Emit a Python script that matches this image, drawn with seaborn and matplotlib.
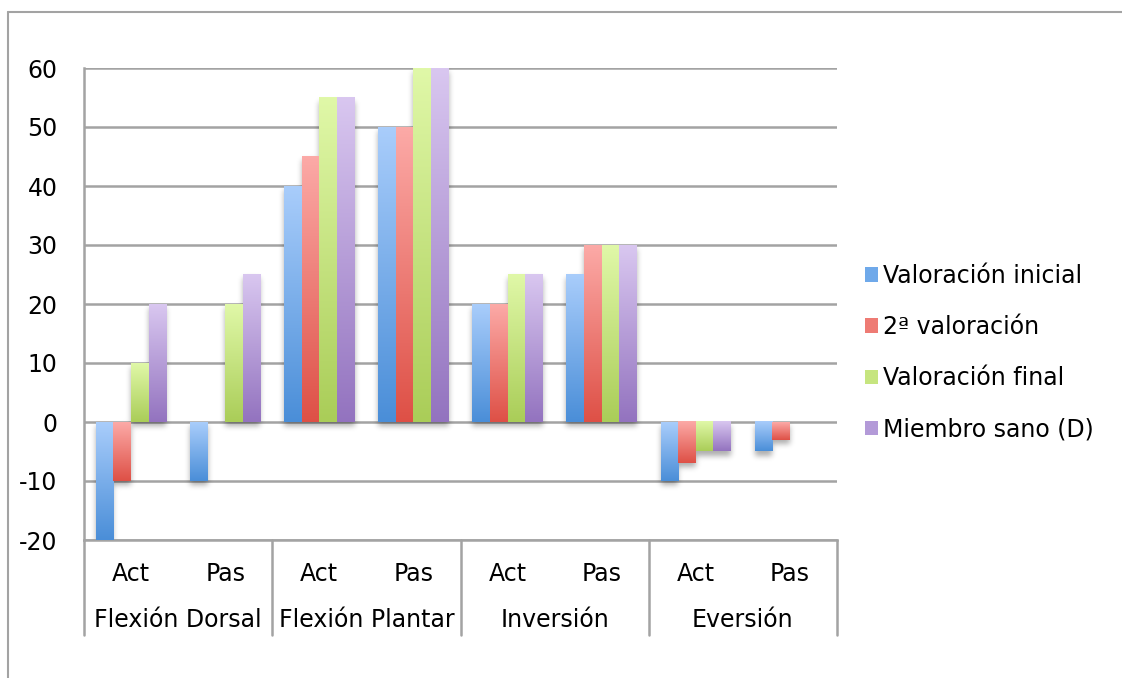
import numpy as np
import pandas as pd
import matplotlib
matplotlib.use("Agg")
import matplotlib.pyplot as plt
from matplotlib.colors import LinearSegmentedColormap
from matplotlib.patches import Patch
from matplotlib.lines import Line2D
import seaborn as sns

# Data
groups = ["Flexión Dorsal", "Flexión Plantar", "Inversión", "Eversión"]
modes = ["Act", "Pas"]
series = ["Valoración inicial", "2ª valoración", "Valoración final", "Miembro sano (D)"]
inicial = [-20, -10, 40, 50, 20, 25, -10, -5]
segunda = [-10, 0, 45, 50, 20, 30, -7, -3]
final = [10, 20, 55, 60, 25, 30, -5, 0]
sano = [20, 25, 55, 60, 25, 30, -5, 0]

categories = [f"{g}|{m}" for g in groups for m in modes]
values = [inicial, segunda, final, sano]
df = pd.DataFrame({
    "cat": np.tile(categories, len(series)),
    "serie": np.repeat(series, len(categories)),
    "valor": np.concatenate(values),
})

# light (top) -> dark (bottom) colours for each series
grad = [("#a9cdfb", "#4a8ed8"), ("#fcaaa7", "#de5046"),
        ("#e0f8a8", "#aacd58"), ("#d9c7f0", "#9373bf")]
mid = ["#6fa9ea", "#ee7b74", "#c6e57f", "#b39ad8"]

FS = 17
GRID = "#a3a3a3"
YMIN, YMAX = -20, 60

sns.set_theme(style="white")
plt.rcParams["font.family"] = ["DejaVu Sans"]
plt.rcParams["axes.unicode_minus"] = False
plt.rcParams["text.color"] = "black"

fig = plt.figure(figsize=(11.22, 6.78), dpi=100)
ax_w_px, ax_h_px = 837 - 84, 540 - 68
ax = fig.add_axes([84 / 1122, 1 - 540 / 678, ax_w_px / 1122, ax_h_px / 678])

sns.barplot(data=df, x="cat", y="valor", hue="serie", order=categories,
            hue_order=series, palette=mid, width=0.75, gap=0,
            legend=False, ax=ax, errorbar=None)

XMIN, XMAX = -0.5, len(categories) - 0.5

# soft drop shadow: union of bar footprints, shifted down and blurred
pad = 20
mask = np.zeros((ax_h_px + 2 * pad, ax_w_px + 2 * pad))
shift_px = 4


def to_col(x):
    return (x - XMIN) / (XMAX - XMIN) * ax_w_px + pad


def to_row(y):
    return (YMAX - y) / (YMAX - YMIN) * ax_h_px + pad


bars = []
for cont, (top, bot) in zip(ax.containers, grad):
    for p in cont.patches:
        x, w = p.get_x(), p.get_width()
        y0, h = p.get_y(), p.get_height()
        lo, hi = min(y0, y0 + h), max(y0, y0 + h)
        p.set_visible(False)
        if hi - lo < 1e-9:
            continue
        bars.append((x, w, lo, hi, top, bot))
        c0, c1 = int(round(to_col(x))), int(round(to_col(x + w)))
        r0, r1 = int(round(to_row(hi))) + shift_px, int(round(to_row(lo))) + shift_px
        mask[r0:r1, c0:c1] = 1.0

sigma = 2.8
k = np.arange(-10, 11)
kern = np.exp(-k ** 2 / (2 * sigma ** 2))
kern /= kern.sum()
blur = np.apply_along_axis(lambda r: np.convolve(r, kern, mode="same"), 1, mask)
blur = np.apply_along_axis(lambda c: np.convolve(c, kern, mode="same"), 0, blur)
shadow = np.zeros(blur.shape + (4,))
shadow[..., 3] = blur * 0.32
ext_x0 = XMIN - pad / ax_w_px * (XMAX - XMIN)
ext_x1 = XMAX + pad / ax_w_px * (XMAX - XMIN)
ext_y0 = YMIN - pad / ax_h_px * (YMAX - YMIN)
ext_y1 = YMAX + pad / ax_h_px * (YMAX - YMIN)
ax.imshow(shadow, extent=[ext_x0, ext_x1, ext_y0, ext_y1], aspect="auto",
          origin="upper", zorder=2.5, interpolation="bilinear")

# gradient fill for every bar
grad_img = np.linspace(0, 1, 256).reshape(-1, 1)
for x, w, lo, hi, top, bot in bars:
    cmap = LinearSegmentedColormap.from_list("g", [top, bot])
    ax.imshow(grad_img, cmap=cmap, extent=[x, x + w, lo, hi],
              aspect="auto", origin="upper", zorder=3,
              interpolation="bilinear")

ax.set_ylim(YMIN, YMAX)
ax.set_xlim(XMIN, XMAX)

# grid and spines
ax.set_yticks(range(YMIN, YMAX + 1, 10))
ax.yaxis.grid(True, color=GRID, linewidth=1.8, zorder=1)
ax.set_axisbelow(True)
for s in ["top", "right"]:
    ax.spines[s].set_visible(False)
for s in ["left", "bottom"]:
    ax.spines[s].set_color(GRID)
    ax.spines[s].set_linewidth(1.8)
ax.tick_params(axis="y", length=0, pad=19, labelsize=FS, labelcolor="black")
ax.tick_params(axis="x", length=0, pad=15.5, labelsize=FS, labelcolor="black")
ax.set_xticks(range(len(categories)))
ax.set_xticklabels([c.split("|")[1] for c in categories])
ax.set_xlabel("")
ax.set_ylabel("")

# group labels and separators below the axis
sep_bottom = -(635 - 540) / ax_h_px
for i in range(len(groups) + 1):
    xa = i / len(groups)
    ax.add_line(Line2D([xa, xa], [0, sep_bottom], transform=ax.transAxes,
                       color=GRID, linewidth=1.8, clip_on=False))
for i, g in enumerate(groups):
    ax.text((i + 0.5) / len(groups), -(620 - 540) / ax_h_px, g,
            transform=ax.transAxes, ha="center", va="center",
            fontsize=FS, color="black")

# outer frame
fig.add_artist(Line2D([8 / 1122, 1], [1 - 12 / 678, 1 - 12 / 678],
                      transform=fig.transFigure, color=GRID, linewidth=1.5))
fig.add_artist(Line2D([8 / 1122, 8 / 1122], [0, 1 - 12 / 678],
                      transform=fig.transFigure, color=GRID, linewidth=1.5))

# legend
handles = [Patch(facecolor=m, edgecolor="none") for m in mid]
leg = fig.legend(handles, series, loc="center left",
                 bbox_to_anchor=(856 / 1122, 1 - 352.5 / 678), frameon=False,
                 fontsize=FS, handlelength=0.55, handleheight=0.55,
                 handletextpad=0.2, labelspacing=1.15, borderaxespad=0)
for t in leg.get_texts():
    t.set_color("black")

fig.savefig("out.png", dpi=100)
